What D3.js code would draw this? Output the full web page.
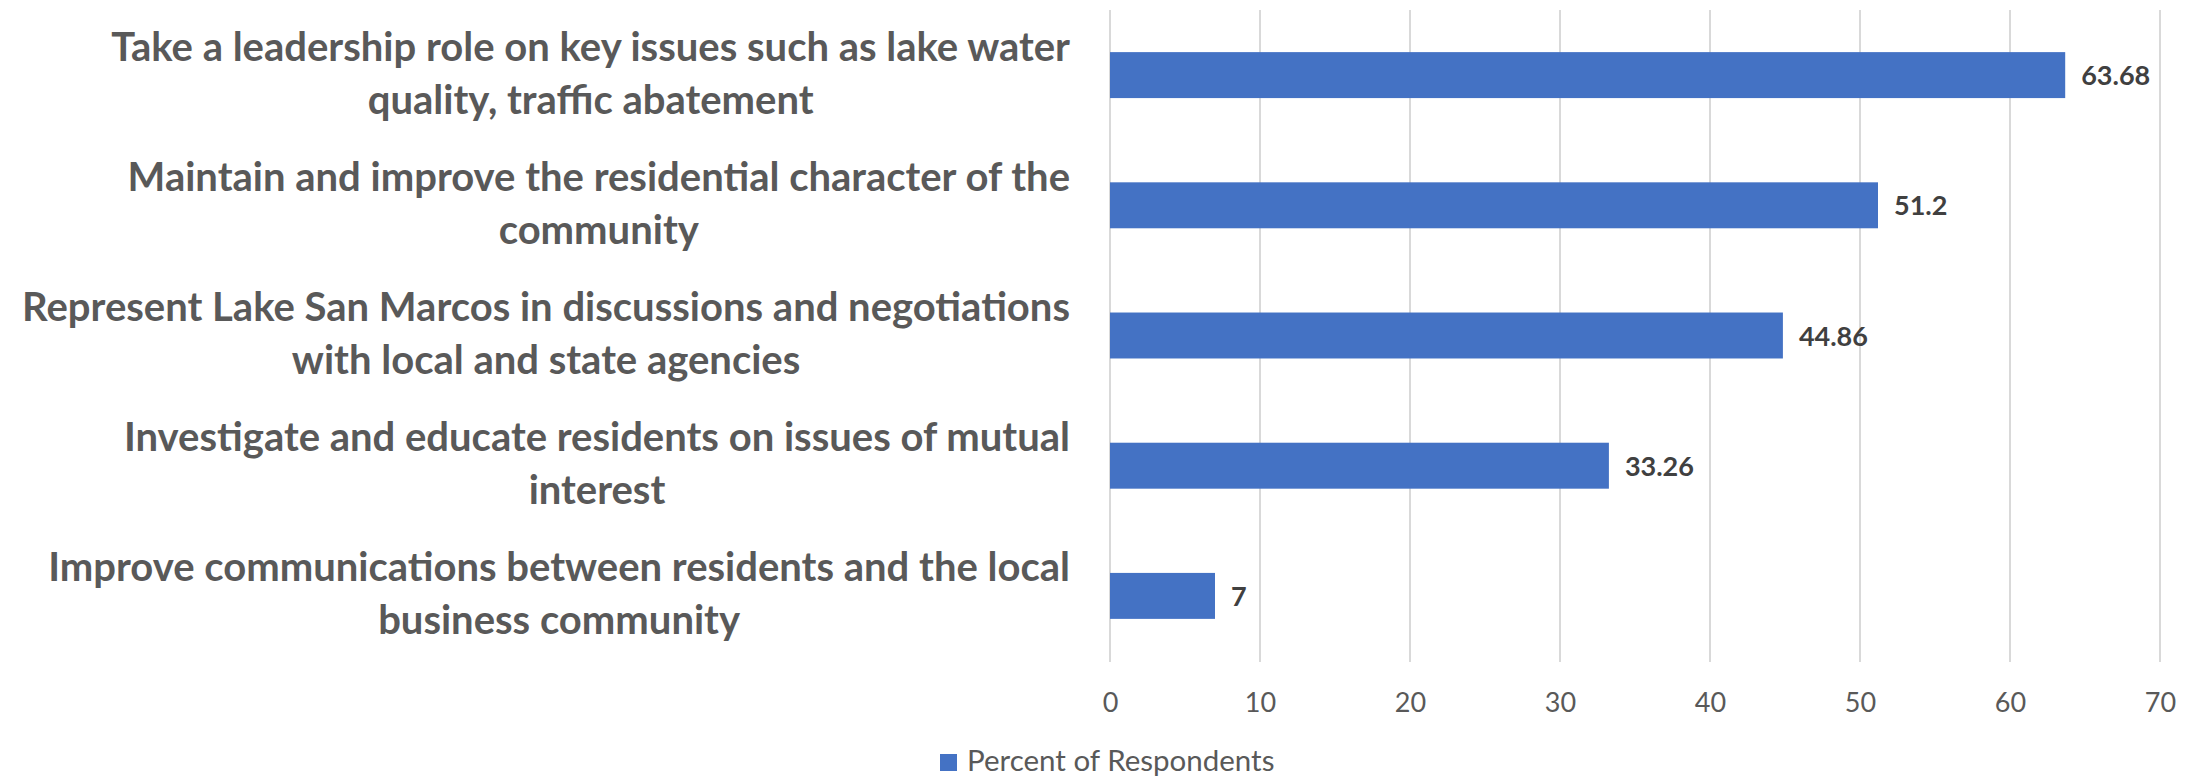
<!DOCTYPE html>
<html>
<head>
<meta charset="utf-8">
<script src="https://cdn.jsdelivr.net/npm/d3@7/dist/d3.min.js"></script>
<style>
  html, body { margin: 0; padding: 0; background: #ffffff; }
  svg { display: block; }
  text { font-family: Lato, "Open Sans", "Noto Sans", sans-serif; }
</style>
</head>
<body>
<svg id="chart" width="2193" height="779"></svg>
<script>
// Survey responses: share of respondents choosing each priority
const categories = [
  "Take a leadership role on key issues such as lake water\nquality, traffic abatement",
  "Maintain and improve the residential character of the\ncommunity",
  "Represent Lake San Marcos in discussions and negotiations\nwith local and state agencies",
  "Investigate and educate residents on issues of mutual\ninterest",
  "Improve communications between residents and the local\nbusiness community"
];
const values = [63.68, 51.2, 44.86, 33.26, 7];
const xTicks = [0, 10, 20, 30, 40, 50, 60, 70];
const seriesName = "Percent of Respondents";

const W = 2193, H = 779;
const plot = { left: 1110, right: 2160, top: 10, bottom: 661 };
const barColor = "#4472C4";
const gridColor = "#d9d9d9";
const labelColor = "#595959";
const valueColor = "#404040";

const svg = d3.select("#chart");

const x = d3.scaleLinear().domain([0, 70]).range([plot.left, plot.right]);
const y = d3.scaleBand()
  .domain(d3.range(categories.length))
  .range([plot.top, plot.bottom])
  .paddingInner(0.647)
  .paddingOuter(0.3235);

// vertical gridlines
svg.append("g")
  .selectAll("line")
  .data(xTicks)
  .join("line")
  .attr("x1", d => x(d)).attr("x2", d => x(d))
  .attr("y1", plot.top).attr("y2", plot.bottom + 1)
  .attr("stroke", gridColor)
  .attr("stroke-width", 2);

// bottom tick labels
const xAxis = d3.axisBottom(x).tickValues(xTicks).tickSize(0).tickPadding(0).tickFormat(d3.format("d"));
const gx = svg.append("g").attr("transform", `translate(0,${plot.bottom})`).call(xAxis);
gx.select(".domain").remove();
gx.selectAll("text")
  .attr("y", 51)
  .attr("dy", null)
  .attr("fill", labelColor)
  .style("font-size", "27px")
  .style("font-family", "Lato, 'Open Sans', sans-serif");

// bars
svg.append("g")
  .selectAll("rect")
  .data(values)
  .join("rect")
  .attr("x", x(0))
  .attr("y", (d, i) => y(i))
  .attr("width", d => x(d) - x(0))
  .attr("height", y.bandwidth())
  .attr("fill", barColor);

// value labels
svg.append("g")
  .selectAll("text")
  .data(values)
  .join("text")
  .attr("x", d => x(d) + 16)
  .attr("y", (d, i) => y(i) + y.bandwidth() / 2 + 10)
  .attr("fill", valueColor)
  .style("font-size", "27px")
  .style("font-weight", "700")
  .text(d => String(d));

// category labels: wrapped lines centered in a right-aligned block
const labelRight = 1070;
const lineGap = 53;
const catG = svg.append("g");
categories.forEach((c, i) => {
  const lines = c.split("\n");
  const t = catG.append("text")
    .attr("fill", labelColor)
    .style("font-size", "40px")
    .style("font-weight", "700")
    .attr("text-anchor", "middle");
  const cy = y(i) + y.bandwidth() / 2;
  const spans = lines.map((ln, k) => t.append("tspan")
    .attr("y", cy + (k - (lines.length - 1) / 2) * lineGap + 12)
    .text(ln));
  const maxW = d3.max(spans, s => s.node().getComputedTextLength());
  spans.forEach(s => s.attr("x", labelRight - maxW / 2));
});

// legend
const leg = svg.append("g");
leg.append("rect")
  .attr("x", 940).attr("y", 754)
  .attr("width", 17).attr("height", 17)
  .attr("fill", barColor);
leg.append("text")
  .attr("x", 967).attr("y", 771)
  .attr("fill", labelColor)
  .style("font-size", "29.5px")
  .text(seriesName);
</script>
</body>
</html>
